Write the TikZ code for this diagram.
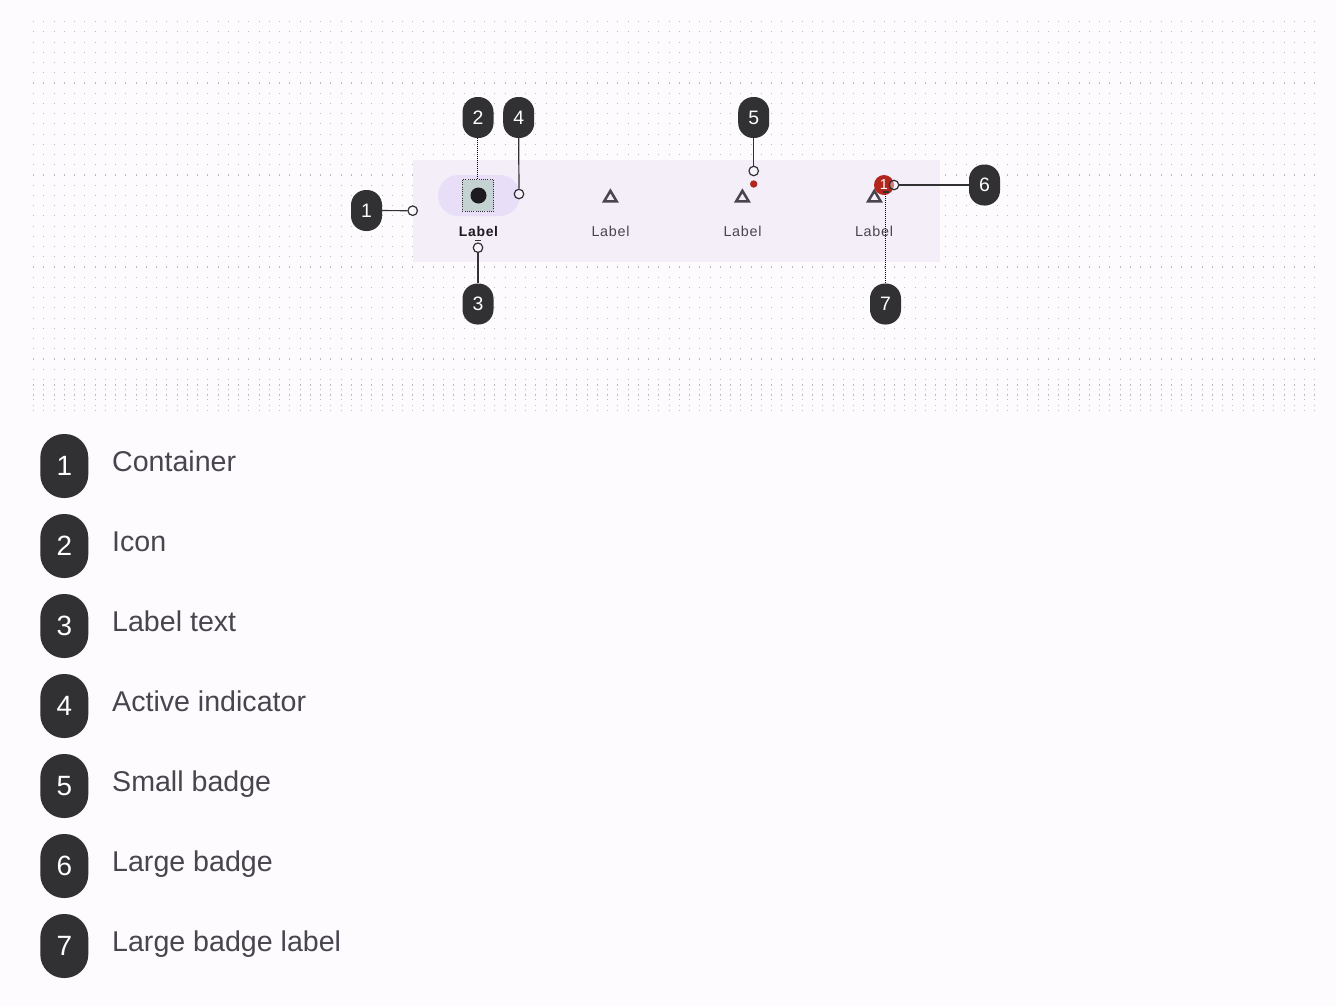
\documentclass[tikz,border=0pt]{standalone}
\usepackage{fontspec}
\setmainfont{Liberation Sans}
\newfontfamily\labelfont[LetterSpace=5]{Liberation Sans}
\definecolor{pagebg}{HTML}{FEFBFF}
\definecolor{dotgrey}{HTML}{BDB9C2}
\definecolor{barbg}{HTML}{F3EEF8}
\definecolor{activebg}{HTML}{E8DEF8}
\definecolor{iconbg}{HTML}{C4D3D2}
\definecolor{calloutbg}{HTML}{313033}
\definecolor{inktext}{HTML}{49454F}
\definecolor{inkdark}{HTML}{1D1B20}
\definecolor{badgered}{HTML}{B3261E}
\tikzset{
  callout/.style={rectangle,rounded corners=15bp,fill=calloutbg,text=white,minimum width=31bp,minimum height=41bp,inner sep=0pt,font=\fontsize{19.5}{20}\selectfont},
  keybadge/.style={rectangle,rounded corners=23.5bp,fill=calloutbg,text=white,minimum width=48bp,minimum height=64bp,inner sep=0pt,font=\fontsize{28}{28}\selectfont},
  keytext/.style={anchor=base west,inner sep=0pt,text=inktext,font=\fontsize{28.7}{29}\selectfont},
  ring/.style={circle,draw=calloutbg,line width=1.2bp,fill=white,fill opacity=0.4,minimum size=9.5bp,inner sep=0pt},
  leader/.style={draw=calloutbg,line width=1.2bp},
  dotleader/.style={draw=black,line width=1bp,dash pattern=on 1bp off 1bp},
  barlabel/.style={anchor=base,inner sep=0pt,text=inktext,font=\labelfont\fontsize{14.4}{15}\selectfont},
  tri/.style={draw=inktext,line width=2.5bp,miter limit=10},
  gridrow/.style={dotgrey,line width=1.1bp,dash pattern=on 1.1bp off 9.15bp}
}
\begin{document}
\begin{tikzpicture}[x=1bp,y=-1bp]
  \useasboundingbox[fill=pagebg] (0,0) rectangle (1336,1006);
  % dot grid
  \foreach \k in {0,...,38}
    \draw[gridrow] (33,{21.7+10.22*\k}) -- (1316,{21.7+10.22*\k});
  \foreach \rowy in {385,395,405.5}
    \draw[gridrow] (33,\rowy) -- (1316,\rowy);

  % bar
  \fill[barbg] (413,160) rectangle (940,262);
  \fill[activebg,rounded corners=20.5bp] (438,175) rectangle (520,216);
  \node[draw=calloutbg,line width=0.8bp,dash pattern=on 1bp off 1.2bp,fill=iconbg,minimum size=31.4bp,inner sep=0pt] (iconbox) at (478,195.3) {};
  \fill[inkdark] (478.5,195.5) circle (8);
  \node[barlabel,font=\labelfont\bfseries\fontsize{14}{15}\selectfont,text=inkdark] (labelA) at (478.5,236) {Label};
  \node[barlabel] (labelB) at (610.5,236) {Label};
  \node[barlabel] (labelC) at (742.5,236) {Label};
  \node[barlabel] (labelD) at (874,236) {Label};
  \foreach \x in {610.4,742.4,874.4}
    \draw[tri] (\x-6.3,201.4) -- (\x,190.8) -- (\x+6.3,201.4) -- cycle;

  % badges
  \node[circle,fill=badgered,minimum size=7.4bp,inner sep=0pt] (smallbadge) at (753.7,184) {};
  \node[circle,fill=badgered,minimum size=20bp,inner sep=0pt,text=white,font=\fontsize{14.5}{15}\selectfont] (largebadge) at (884,185) {1};

  % callouts
  \node[callout] (callA) at (366.5,210.5) {1};
  \node[callout] (callB) at (478,117.5) {2};
  \node[callout] (callC) at (478,304) {3};
  \node[callout] (callD) at (518.7,117.5) {4};
  \node[callout] (callE) at (753.7,117.5) {5};
  \node[callout] (callF) at (984.5,185) {6};
  \node[callout] (callG) at (885.5,304) {7};

  % ends
  \node[ring] (endA) at (412.7,210.7) {};
  \node[ring] (endC) at (478,247.7) {};
  \node[ring] (endD) at (519,194) {};
  \node[ring] (endE) at (753.7,171) {};
  \node[ring] (endF) at (894,185) {};
  \coordinate (endB) at (477.5,179);
  \coordinate (endG) at (885.5,192);

  \draw[leader] (callA) -- (endA);
  \draw[dotleader] (endB) -- (endB |- callB.south);
  \draw[leader] (callC) -- (endC);
  \draw[leader] (callD.south) -- (endD);
  \draw[leader] (callE.south) -- (endE);
  \draw[leader] (callF) -- (endF);
  \draw[dotleader] (endG) -- (endG |- callG.north);
  \draw[leader] ([shift={(-3,-1.5)}]endC.north) -- ([shift={(3,-1.5)}]endC.north);
  \draw[leader] ([xshift=-3bp]endG) -- ([xshift=3bp]endG);

  % key
  \foreach \n/\txt [count=\i from 0] in {1/Container,2/Icon,3/Label text,4/Active indicator,5/Small badge,6/Large badge,7/Large badge label} {
    \node[keybadge] (key\n) at (64.3,466+80*\i) {\n};
    \node[keytext] (keytext\n) at (112,471+80*\i) {\txt};
  }
\end{tikzpicture}
\end{document}
